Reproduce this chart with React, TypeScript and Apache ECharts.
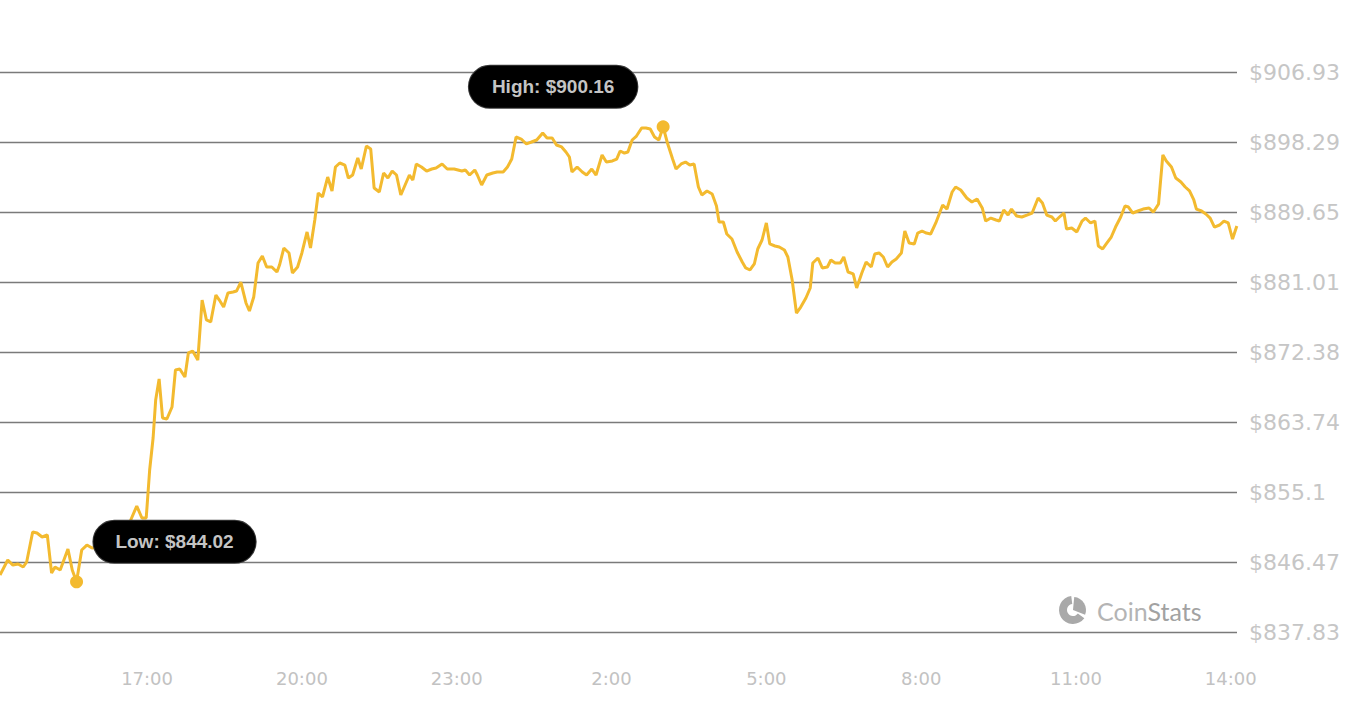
import React, { useEffect, useRef } from "react";
import * as echarts from "echarts";

const times: string[] = [
  "14:09","14:18","14:24","14:30","14:36","14:40","14:47","14:52","14:58","15:04",
  "15:09","15:13","15:19","15:28","15:33","15:38","15:44","15:50","15:56","16:02",
  "16:06","16:17","16:28","16:40","16:48","16:54","16:59","17:03","17:07","17:10",
  "17:14","17:18","17:23","17:29","17:33","17:38","17:44","17:48","17:53","17:59",
  "18:04","18:09","18:14","18:20","18:24","18:29","18:34","18:40","18:44","18:49",
  "18:55","18:59","19:04","19:09","19:14","19:19","19:25","19:31","19:34","19:39",
  "19:45","19:49","19:55","20:00","20:06","20:10","20:15","20:19","20:24","20:30",
  "20:35","20:39","20:44","20:50","20:54","20:59","21:05","21:09","21:15","21:20",
  "21:24","21:30","21:35","21:40","21:45","21:50","21:55","21:59","22:05","22:09",
  "22:13","22:19","22:25","22:31","22:36","22:43","22:49","22:57","23:06","23:10",
  "23:15","23:21","23:24","23:29","23:35","23:42","23:47","23:54","23:59","00:04",
  "00:09","00:15","00:21","00:27","00:33","00:40","00:45","00:51","00:56","01:02",
  "01:07","01:11","01:14","01:20","01:26","01:31","01:37","01:42","01:49","01:54",
  "02:01","02:06","02:10","02:15","02:19","02:24","02:29","02:35","02:40","02:45",
  "02:50","02:55","03:00","03:05","03:11","03:15","03:21","03:26","03:31","03:36",
  "03:41","03:45","03:51","03:57","04:02","04:05","04:10","04:14","04:20","04:26",
  "04:32","04:36","04:41","04:46","04:50","04:55","05:00","05:04","05:10","05:15",
  "05:21","05:25","05:30","05:35","05:40","05:46","05:51","05:54","06:00","06:05",
  "06:11","06:15","06:20","06:26","06:30","06:35","06:41","06:45","06:51","06:56",
  "07:02","07:06","07:11","07:16","07:21","07:26","07:31","07:37","07:41","07:46",
  "07:52","07:56","08:01","08:06","08:11","08:17","08:25","08:30","08:36","08:40",
  "08:46","08:53","08:59","09:05","09:11","09:15","09:21","09:27","09:31","09:36",
  "09:41","09:45","09:51","09:57","10:03","10:09","10:16","10:21","10:26","10:32",
  "10:36","10:42","10:46","10:49","10:55","11:01","11:07","11:11","11:17","11:22",
  "11:26","11:31","11:36","11:41","11:46","11:52","11:57","12:01","12:06","12:12",
  "12:18","12:25","12:30","12:36","12:41","12:45","12:51","12:56","13:02","13:07",
  "13:12","13:17","13:20","13:26","13:31","13:36","13:41","13:47","13:52","13:57",
  "14:02","14:07"
];

const prices: number[] = [
  844.86,846.71,846.09,846.22,845.85,846.47,850.17,850.05,849.55,849.80,
  845.11,845.85,845.48,848.07,845.48,844.02,847.95,848.56,848.19,848.31,
  850.78,850.66,851.16,851.40,853.37,851.90,851.90,857.82,861.77,866.46,
  869.05,864.24,864.11,865.59,870.16,870.28,869.29,872.26,872.50,871.39,
  878.79,876.33,876.09,879.41,878.79,877.93,879.66,879.78,879.90,881.01,
  878.43,877.44,879.17,883.36,884.23,882.87,882.87,882.25,883.11,885.21,
  884.60,882.13,882.87,884.60,887.19,885.21,888.67,892.00,891.51,893.97,
  892.25,895.21,895.70,895.45,893.85,894.22,896.32,894.96,897.80,897.43,
  892.61,892.12,894.47,893.85,894.71,894.22,891.75,892.74,894.22,893.60,
  895.58,895.21,894.71,894.96,895.08,895.58,894.96,894.96,894.71,894.84,
  894.22,894.84,894.22,892.99,894.22,894.47,894.59,894.59,895.21,896.19,
  898.91,898.66,898.05,898.29,898.54,899.40,898.79,898.79,897.92,897.68,
  897.06,896.44,894.59,895.21,894.59,894.22,894.96,894.22,896.69,895.83,
  895.95,896.19,897.18,896.93,897.06,898.54,899.03,900.02,900.02,899.90,
  898.91,898.54,900.16,898.17,896.19,894.96,895.58,895.82,895.45,895.58,
  892.74,891.75,892.25,891.88,890.39,888.42,888.42,886.94,886.32,884.72,
  883.49,882.75,882.50,883.24,885.09,886.20,888.30,885.71,885.46,885.34,
  884.97,884.10,881.26,877.19,877.93,879.04,880.28,883.36,883.98,882.75,
  882.87,883.73,883.36,883.36,884.10,882.25,882.01,880.28,882.13,883.49,
  882.87,884.47,884.60,884.10,882.87,883.49,883.86,884.60,887.31,885.83,
  885.71,887.06,887.31,887.06,886.94,888.30,890.52,890.02,892.12,892.74,
  892.37,891.38,890.89,891.26,890.15,888.54,888.91,888.67,888.54,889.90,
  889.28,890.02,889.16,889.04,889.28,889.53,891.38,890.76,889.28,889.04,
  888.54,889.16,889.53,887.56,887.68,887.19,888.54,888.91,888.30,888.54,
  885.46,885.09,885.83,886.57,887.80,889.04,890.39,890.27,889.53,889.78,
  890.02,890.15,889.65,890.65,896.69,895.95,895.21,893.85,893.36,892.74,
  892.25,891.14,890.02,889.78,889.41,888.91,887.80,888.05,888.54,888.30,
  886.32,887.93
];

const yTickLabels: string[] = [
  "$837.83","$846.47","$855.1","$863.74","$872.38","$881.01","$889.65","$898.29","$906.93"
];
const xTickHours: number[] = [17, 20, 23, 26, 29, 32, 35, 38];

const Y_MIN = 837.83;
const Y_MAX = 906.93;
const START_MIN = 14 * 60 + 9;

function toHour(t: string): number {
  const [hh, mm] = t.split(":").map(Number);
  let m = hh * 60 + mm;
  if (m < START_MIN) m += 24 * 60;
  return m / 60;
}

export default function App() {
  const ref = useRef<HTMLDivElement>(null);
  useEffect(() => {
    if (!ref.current) return;
    const chart = echarts.init(ref.current, undefined, { renderer: "svg" });
    const data = times.map((t, i) => [toHour(t), prices[i]]);
    let hi = 0, lo = 0;
    prices.forEach((p, i) => {
      if (p > prices[hi]) hi = i;
      if (p < prices[lo]) lo = i;
    });
    const interval = (Y_MAX - Y_MIN) / 8;
    const yellow = "#F3BA2F";
    const pill = {
      show: true,
      position: "inside",
      backgroundColor: "#000",
      borderColor: "#3a3a3a",
      borderWidth: 1,
      borderRadius: 21,
      padding: [12, 23],
      color: "#c4c4c4",
      fontFamily: "Liberation Sans, Arial, sans-serif",
      fontWeight: "bold",
      fontSize: 19,
      lineHeight: 18,
    };
    chart.setOption({
      animation: false,
      backgroundColor: "#fff",
      grid: { left: 0, right: 114, top: 72, bottom: 77, containLabel: false },
      xAxis: {
        type: "value",
        min: 14.15,
        max: 38.12,
        axisLine: { show: false },
        axisTick: { show: false },
        splitLine: { show: false },
        axisLabel: {
          customValues: xTickHours,
          margin: 37,
          color: "#c2c2c2",
          fontFamily: "DejaVu Sans, sans-serif",
          fontSize: 18,
          formatter: (v: number) => `${Math.round(v) % 24}:00`,
        },
      },
      yAxis: {
        type: "value",
        position: "right",
        min: Y_MIN,
        max: Y_MAX,
        interval,
        axisLine: { show: false },
        axisTick: { show: false },
        splitLine: { show: true, lineStyle: { color: "#7a7a7a", width: 1.3 } },
        axisLabel: {
          margin: 12,
          color: "#c6c6c6",
          fontFamily: "DejaVu Sans, sans-serif",
          fontSize: 22,
          formatter: (v: number) => {
            const i = Math.round((v - Y_MIN) / interval);
            return yTickLabels[i] ?? "";
          },
        },
      },
      series: [
        {
          type: "line",
          data,
          showSymbol: false,
          symbol: "none",
          lineStyle: { color: yellow, width: 3 },
          itemStyle: { color: yellow },
          markPoint: {
            symbol: "circle",
            symbolSize: 13,
            itemStyle: { color: yellow },
            data: [
              {
                coord: data[hi],
                label: { ...pill, offset: [-110, -40], formatter: `High: $${prices[hi].toFixed(2)}` },
              },
              {
                coord: data[lo],
                label: { ...pill, padding: [12, 22], offset: [98, -40], formatter: `Low: $${prices[lo].toFixed(2)}` },
              },
            ],
          },
        },
      ],
      graphic: [
        {
          type: "group",
          x: 1073,
          y: 610,
          children: [
            {
              type: "sector",
              shape: { cx: 0, cy: 0, r0: 6, r: 14, startAngle: Math.PI / 5, endAngle: Math.PI * 1.46, clockwise: true },
              style: { fill: "#a9a9a9" },
            },
            {
              type: "sector",
              shape: { cx: 0, cy: 0, r0: 0, r: 13, startAngle: -Math.PI * 0.47, endAngle: Math.PI * 0.12, clockwise: true },
              style: { fill: "#a9a9a9" },
            },
          ],
        },
        {
          type: "text",
          x: 1097,
          y: 611,
          style: {
            text: "{a|Coin}{b|Stats}",
            verticalAlign: "middle",
            fill: "#b0b0b0",
            rich: {
              a: { fontFamily: "Lato, sans-serif", fontSize: 25, fill: "#b4b4b4" },
              b: { fontFamily: "Lato, sans-serif", fontSize: 25, fill: "#a2a2a2" },
            },
          },
        },
      ],
    });
    return () => chart.dispose();
  }, []);
  return (
    <div
      ref={ref}
      style={{ position: "absolute", left: 0, top: 0, width: 1351, height: 709 }}
    />
  );
}
